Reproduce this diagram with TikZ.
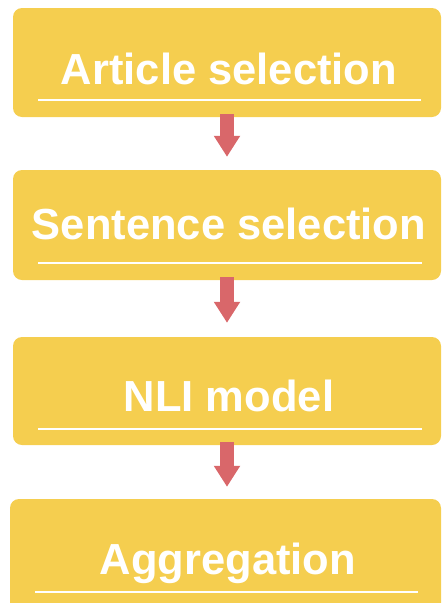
\documentclass[tikz,border=0pt]{standalone}
\usepackage{fontspec}
\setmainfont{Liberation Sans}
\usetikzlibrary{arrows.meta}
\definecolor{stageyellow}{HTML}{F5CE4F}
\definecolor{flowred}{HTML}{D9676A}
\begin{document}
\begin{tikzpicture}[x=1pt,y=-1pt,
  stagebox/.style={fill=stageyellow, draw=none, rounded corners=9pt, inner sep=0pt,
                   minimum width=428pt},
  stagelabel/.style={text=white, font=\fontsize{43.5}{50}\selectfont\bfseries, inner sep=0pt, anchor=base},
  rule/.style={draw=white, line width=2.6pt},
  flow/.style={draw=flowred, line width=14pt, -{Triangle[width=25pt,length=21pt]}, flowred}
]
\useasboundingbox (0,0) rectangle (443,603);
\clip (0,0) rectangle (443,603);

% stage boxes
\node[stagebox, minimum height=109pt] (b1) at (227,62.5) {};
\node[stagebox, minimum height=110pt] (b2) at (227,225) {};
\node[stagebox, minimum height=108pt] (b3) at (227,391) {};
\node[stagebox, minimum height=141pt, minimum width=431pt] (b4) at (225.5,569.5) {};

% labels
\node[stagelabel] (t1) at (229,84) {Article selection};
\node[stagelabel] (t2) at (229,239) {Sentence selection};
\node[stagelabel] (t3) at (229,411) {NLI model};
\node[stagelabel] (t4) at (228,574) {Aggregation};

% white rules under the labels
\coordinate (u1a) at (38,100);  \coordinate (u1b) at (421,100);
\coordinate (u2a) at (38,263);  \coordinate (u2b) at (422,263);
\coordinate (u3a) at (38,429);  \coordinate (u3b) at (422,429);
\coordinate (u4a) at (35,592);  \coordinate (u4b) at (418,592);
\draw[rule] (u1a) -- (u1b);
\draw[rule] (u2a) -- (u2b);
\draw[rule] (u3a) -- (u3b);
\draw[rule] (u4a) -- (u4b);

% flow arrows between stages, straight down from each box
\draw[flow] ([yshift=3pt]b1.south) -- ([yshift=13pt]b2.north);
\draw[flow] ([yshift=3pt]b2.south) -- ([yshift=14pt]b3.north);
\draw[flow] ([yshift=3pt]b3.south) -- ([yshift=12pt]b3.south |- b4.north);
\end{tikzpicture}
\end{document}
